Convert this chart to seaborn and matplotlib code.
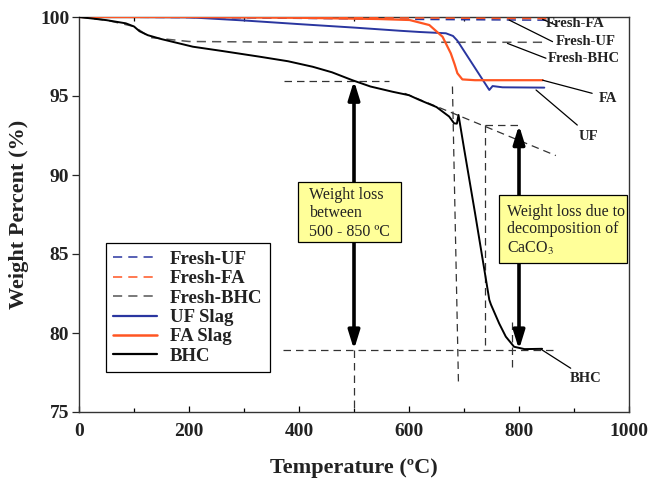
import numpy as np
import pandas as pd
import matplotlib
matplotlib.use("Agg")
import matplotlib.pyplot as plt
from matplotlib.lines import Line2D
from matplotlib.patches import Rectangle
import seaborn as sns

# ---------------- data ----------------
bhc_T = [0, 50, 85, 100, 110, 125, 150, 207, 260, 328, 380, 425, 460, 497, 530, 570,
         600, 619, 650, 673, 682, 687, 690, 700, 720, 746, 749, 764, 776, 791, 810, 842]
bhc_W = [100, 99.8, 99.6, 99.4, 99.1, 98.85, 98.6, 98.12, 97.85, 97.49, 97.2, 96.85,
         96.5, 96.0, 95.6, 95.27, 95.05, 94.75, 94.3, 93.7, 93.27, 93.25, 93.8, 91.7,
         87.6, 82.1, 81.8, 80.6, 79.77, 79.13, 78.98, 79.0]

uf_T = [0, 100, 200, 300, 400, 500, 546, 583, 620, 667, 680, 688, 746, 752, 770, 846]
uf_W = [100, 100, 99.98, 99.78, 99.55, 99.33, 99.22, 99.13, 99.05, 98.97, 98.8, 98.5,
        95.38, 95.63, 95.55, 95.53]

fa_T = [0, 200, 400, 546, 601, 637, 661, 676, 683, 688, 697, 720, 740, 843]
fa_W = [100, 100, 99.95, 99.87, 99.81, 99.49, 98.75, 97.7, 97.0, 96.44, 96.05, 96.0, 96.0, 96.0]

fresh_uf_T = [0, 300, 600, 850]
fresh_uf_W = [100, 99.95, 99.85, 99.8]

fresh_fa_T = [0, 400, 850]
fresh_fa_W = [100, 99.97, 99.9]

fresh_bhc_T = [0, 50, 100, 130, 200, 400, 850]
fresh_bhc_W = [100, 99.8, 99.4, 98.7, 98.45, 98.4, 98.4]

x_ticks = [0, 200, 400, 600, 800, 1000]
y_ticks = [75, 80, 85, 90, 95, 100]

# guide lines (T, W pairs)
guide_upper_h = ([372, 564], [95.97, 95.97])
guide_lower_h = ([371, 864], [78.95, 78.95])
guide_v500 = ([500, 500], [78.95, 75.0])
guide_tangent = ([592, 867], [95.17, 91.23])
guide_steep = ([679, 690], [95.6, 76.7])
guide_rect_v = ([738, 738], [93.16, 78.95])
guide_rect_h = ([738, 800], [93.16, 93.16])
guide_small_v = ([788, 788], [80.7, 77.55])

arrow1 = (500, 95.97, 78.95)
arrow2 = (800, 93.16, 78.95)

# ---------------- style ----------------
sns.set_theme(style="ticks")
plt.rcParams["font.family"] = ["Liberation Serif", "DejaVu Serif"]
plt.rcParams["mathtext.fontset"] = "stix"

BLUE = "#2a36a0"
RED = "#ff5522"
GRAY = "#555555"

fig = plt.figure(figsize=(6.49, 4.8), dpi=100)
ax = fig.add_axes([79 / 649, 68 / 480, 550 / 649, 395 / 480])

def frame(T, W, name):
    return pd.DataFrame({"T": T, "W": W, "series": name})

dash = (6, 4)
sns.lineplot(data=frame(fresh_bhc_T, fresh_bhc_W, "Fresh-BHC"), x="T", y="W", ax=ax,
             color=GRAY, lw=1.1, sort=False, estimator=None, zorder=2).lines[-1].set_dashes(dash)
sns.lineplot(data=frame(fresh_uf_T, fresh_uf_W, "Fresh-UF"), x="T", y="W", ax=ax,
             color=BLUE, lw=1.1, sort=False, estimator=None, zorder=3).lines[-1].set_dashes(dash)
sns.lineplot(data=frame(fresh_fa_T, fresh_fa_W, "Fresh-FA"), x="T", y="W", ax=ax,
             color=RED, lw=1.1, sort=False, estimator=None, zorder=3).lines[-1].set_dashes(dash)
sns.lineplot(data=frame(uf_T, uf_W, "UF Slag"), x="T", y="W", ax=ax,
             color=BLUE, lw=1.4, sort=False, estimator=None, zorder=4)
sns.lineplot(data=frame(fa_T, fa_W, "FA Slag"), x="T", y="W", ax=ax,
             color=RED, lw=1.6, sort=False, estimator=None, zorder=4)
sns.lineplot(data=frame(bhc_T, bhc_W, "BHC"), x="T", y="W", ax=ax,
             color="black", lw=1.4, sort=False, estimator=None, zorder=5)

# guide dashed lines
for gx, gy in [guide_upper_h, guide_lower_h, guide_v500, guide_tangent, guide_steep,
               guide_rect_v, guide_rect_h, guide_small_v]:
    ax.plot(gx, gy, color="#333333", lw=0.9, dashes=(6, 4), zorder=3)

# arrows
for ax_x, y_top, y_bot in [arrow1, arrow2]:
    ax.annotate("", xy=(ax_x, y_top), xytext=(ax_x, y_bot),
                arrowprops=dict(arrowstyle="<|-|>,head_length=0.55,head_width=0.17",
                                lw=2.6, color="black", shrinkA=0, shrinkB=0,
                                mutation_scale=20), zorder=6)

# text boxes
ax.add_patch(Rectangle((398, 85.73), 187.6, 3.85, facecolor="#ffff99",
                       edgecolor="black", lw=0.9, zorder=7))
for txt, yy in [("Weight loss", 88.73), ("between", 87.57), ("500 - 850 ºC", 86.37)]:
    ax.text(419, yy, txt, fontsize=11.5, va="center", ha="left", zorder=8, color="#222222")

ax.add_patch(Rectangle((764, 84.41), 233, 4.32, facecolor="#ffff99",
                       edgecolor="black", lw=0.9, zorder=7))
for txt, yy in [("Weight loss due to", 87.68), ("decomposition of", 86.57),
                ("CaCO$_3$", 85.36)]:
    ax.text(778, yy, txt, fontsize=11.5, va="center", ha="left", zorder=8, color="#222222")

# callout labels with leader lines
callouts = [
    ("Fresh-FA", (843, 99.85), (867, 99.49), (903, 99.56)),
    ("Fresh-UF", (782, 99.81), (861, 98.44), (921, 98.44)),
    ("Fresh-BHC", (779, 98.33), (849, 97.39), (918, 97.39)),
    ("FA", (843, 96.0), (933, 95.17), (961, 94.85)),
    ("UF", (831, 95.38), (906, 93.16), (927, 92.43)),
    ("BHC", (840, 78.97), (894, 77.77), (921, 77.1)),
]
for label, p0, p1, pt in callouts:
    ax.plot([p0[0], p1[0]], [p0[1], p1[1]], color="black", lw=0.9, zorder=6,
            clip_on=False)
    ax.text(pt[0], pt[1], label, fontsize=10.5, fontweight="bold", ha="center",
            va="center", zorder=8, color="#222222")

# axes
ax.set_xlim(0, 1000)
ax.set_ylim(75, 100)
ax.set_xticks(x_ticks)
ax.set_xticks(np.arange(100, 1000, 200), minor=True)
ax.set_yticks(y_ticks)
ax.tick_params(axis="x", which="both", direction="in", length=4, width=0.9,
               labelsize=14, pad=8, colors="black")
ax.tick_params(axis="x", which="minor", top=True, length=3)
ax.tick_params(axis="y", direction="out", length=5, width=0.9, labelsize=14, pad=2)
for lab in ax.get_xticklabels() + ax.get_yticklabels():
    lab.set_fontweight("bold")
    lab.set_color("#222222")
ax.set_xlabel("Temperature (ºC)", fontsize=16, fontweight="bold", labelpad=13,
              color="#222222")
ax.set_ylabel("Weight Percent (%)", fontsize=16, fontweight="bold", labelpad=8,
              color="#222222")
for s in ax.spines.values():
    s.set_visible(True)
    s.set_color("#333333")
    s.set_linewidth(1.0)
ax.set_facecolor("white")

# legend
handles = [
    Line2D([], [], color=BLUE, lw=1.1, dashes=(6, 4)),
    Line2D([], [], color=RED, lw=1.1, dashes=(6, 4)),
    Line2D([], [], color=GRAY, lw=1.1, dashes=(6, 4)),
    Line2D([], [], color=BLUE, lw=1.6),
    Line2D([], [], color=RED, lw=1.8),
    Line2D([], [], color="black", lw=1.6),
]
labels = ["Fresh-UF", "Fresh-FA", "Fresh-BHC", "UF Slag", "FA Slag", "BHC"]
leg = ax.legend(handles, labels, loc="upper left", bbox_to_anchor=(0.049, 0.427),
                frameon=True, fancybox=False, edgecolor="black", framealpha=1,
                prop={"family": "Liberation Serif", "weight": "bold", "size": 13.5},
                handlelength=2.3, handletextpad=0.7, labelspacing=0.12,
                borderpad=0.4, borderaxespad=0)
leg.get_frame().set_linewidth(0.9)
for t in leg.get_texts():
    t.set_color("#222222")

fig.savefig("out.png", dpi=100, facecolor="white")
